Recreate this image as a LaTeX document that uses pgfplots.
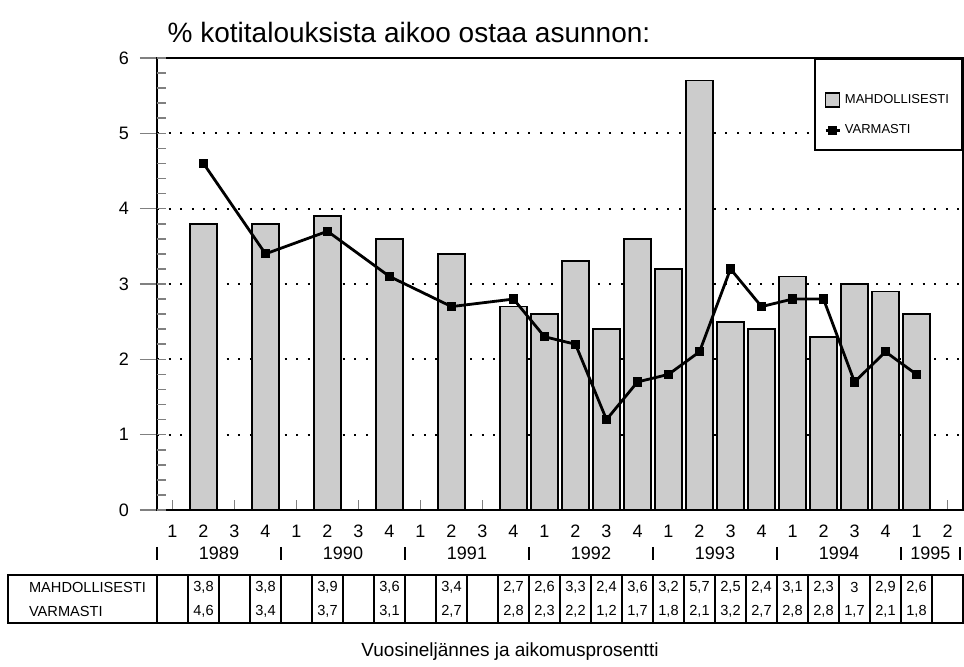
\documentclass[border=0pt]{standalone}
\usepackage{fontspec}
\setmainfont{Liberation Sans}
\usepackage{pgfplots}
\pgfplotsset{compat=1.18}
\usepackage{pgfplotstable}

% neljannes (0 = 1989/1), mahdollisesti, varmasti
\pgfplotstableread{
q  M   V
1  3.8 4.6
3  3.8 3.4
5  3.9 3.7
7  3.6 3.1
9  3.4 2.7
11 2.7 2.8
12 2.6 2.3
13 3.3 2.2
14 2.4 1.2
15 3.6 1.7
16 3.2 1.8
17 5.7 2.1
18 2.5 3.2
19 2.4 2.7
20 3.1 2.8
21 2.3 2.8
22 3.0 1.7
23 2.9 2.1
24 2.6 1.8
}\kysely

\definecolor{barfill}{gray}{0.8}
\pgfplotsset{
  boxlegend/.style={legend image code/.code={\draw[##1, line width=0.6pt] (0pt,-3.5pt) rectangle (7pt,3.5pt);}},
  linelegend/.style={legend image code/.code={\draw[mark repeat=2, mark phase=2, ##1] plot coordinates {(0pt,0pt) (3.5pt,0pt) (7pt,0pt)};}},
}
\newcommand{\sep}[1]{\draw[line width=0.7pt] (axis cs:#1,0) ++(0pt,-18.5pt) -- ++(0pt,-6.5pt);}

\begin{document}
\begin{tikzpicture}
\path[use as bounding box] (-78.5pt,-78.5pt) rectangle (403.5pt,255pt);

\begin{axis}[
  name=main, at={(0pt,0pt)}, anchor=south west,
  x=15.5pt, y=37.667pt,
  xmin=-0.5, xmax=25.5, ymin=0, ymax=6,
  clip=false,
  axis line style={line width=1.2pt},
  tick pos=left,
  xtick={0,...,25},
  xticklabels={1,2,3,4,1,2,3,4,1,2,3,4,1,2,3,4,1,2,3,4,1,2,3,4,1,2},
  xtick align=inside,
  xtick style={/pgfplots/major tick length=5pt, line width=0.8pt},
  ytick={0,...,6},
  ytick align=outside,
  major tick length=8.5pt,
  ytick style={line width=0.8pt},
  extra y ticks={0,0.2,...,6.01},
  extra y tick labels={},
  extra y tick style={ytick align=inside, /pgfplots/major tick length=4.5pt, grid=none},
  ymajorgrids,
  grid style={black, line width=1pt, dash pattern=on 1pt off 4.8pt},
  tick label style={font=\fontsize{9}{10}\selectfont},
  xticklabel style={anchor=base, yshift=-13.7pt},
  yticklabel style={anchor=center, xshift=-8pt},
  /pgf/number format/assume math mode=true,
  legend style={at={(1,1)}, anchor=north east, draw=black, line width=1pt,
    font=\fontsize{6.5}{7}\selectfont, inner xsep=4.5pt, inner ysep=5pt,
    row sep=5pt, cells={anchor=west}, fill=white},
]
\addlegendimage{empty legend}
\addlegendentry{}
\addplot[ybar, bar width=0.87, fill=barfill, draw=black, line width=0.9pt, boxlegend]
  table[x=q, y=M] \kysely;
\addlegendentry{MAHDOLLISESTI}
\addplot[black, line width=1.4pt, mark=square*, mark size=1.6pt, linelegend]
  table[x=q, y=V] \kysely;
\addlegendentry{VARMASTI}

\node[font=\fontsize{9}{10}\selectfont] at (axis cs:1.5,0)  [yshift=-21.5pt] {1989};
\node[font=\fontsize{9}{10}\selectfont] at (axis cs:5.5,0)  [yshift=-21.5pt] {1990};
\node[font=\fontsize{9}{10}\selectfont] at (axis cs:9.5,0)  [yshift=-21.5pt] {1991};
\node[font=\fontsize{9}{10}\selectfont] at (axis cs:13.5,0) [yshift=-21.5pt] {1992};
\node[font=\fontsize{9}{10}\selectfont] at (axis cs:17.5,0) [yshift=-21.5pt] {1993};
\node[font=\fontsize{9}{10}\selectfont] at (axis cs:21.5,0) [yshift=-21.5pt] {1994};
\node[font=\fontsize{9}{10}\selectfont] at (axis cs:24.45,0) [yshift=-21.5pt] {1995};
\sep{-0.5}\sep{3.5}\sep{7.5}\sep{11.5}\sep{15.5}\sep{19.5}\sep{23.5}\sep{25.4}
\end{axis}

\begin{axis}[
  name=tab, at={(-74.5pt,-56.5pt)}, anchor=south west,
  x=15.5pt, y=12pt,
  xmin=-5.306, xmax=25.5, ymin=0, ymax=2,
  clip=false,
  axis line style={line width=1pt},
  xtick={-0.5,0.5,...,24.6},
  xticklabels={},
  ytick=\empty,
  major tick length=0pt,
  xmajorgrids,
  grid style={black, line width=0.8pt, solid},
  point meta=explicit,
  nodes near coords,
  every node near coord/.append style={anchor=center, inner sep=0pt,
    font=\fontsize{7.3}{8}\selectfont},
  /pgf/number format/assume math mode=true,
  /pgf/number format/use comma,
  /pgf/number format/fixed,
]
\addplot[draw=none, mark=none] table[x=q, y expr=1.5, meta=M] \kysely;
\addplot[draw=none, mark=none] table[x=q, y expr=0.5, meta=V] \kysely;
\end{axis}

\node[anchor=west, font=\fontsize{7.3}{8}\selectfont] at (-67.5pt,-38.5pt) {MAHDOLLISESTI};
\node[anchor=west, font=\fontsize{7.3}{8}\selectfont] at (-67.5pt,-50.5pt) {VARMASTI};

\node[font=\fontsize{14}{16}\selectfont] at (126pt,238.5pt) {\% kotitalouksista aikoo ostaa asunnon:};
\node[font=\fontsize{9.5}{11}\selectfont] at (176.5pt,-71pt) {Vuosineljännes ja aikomusprosentti};
\end{tikzpicture}
\end{document}
